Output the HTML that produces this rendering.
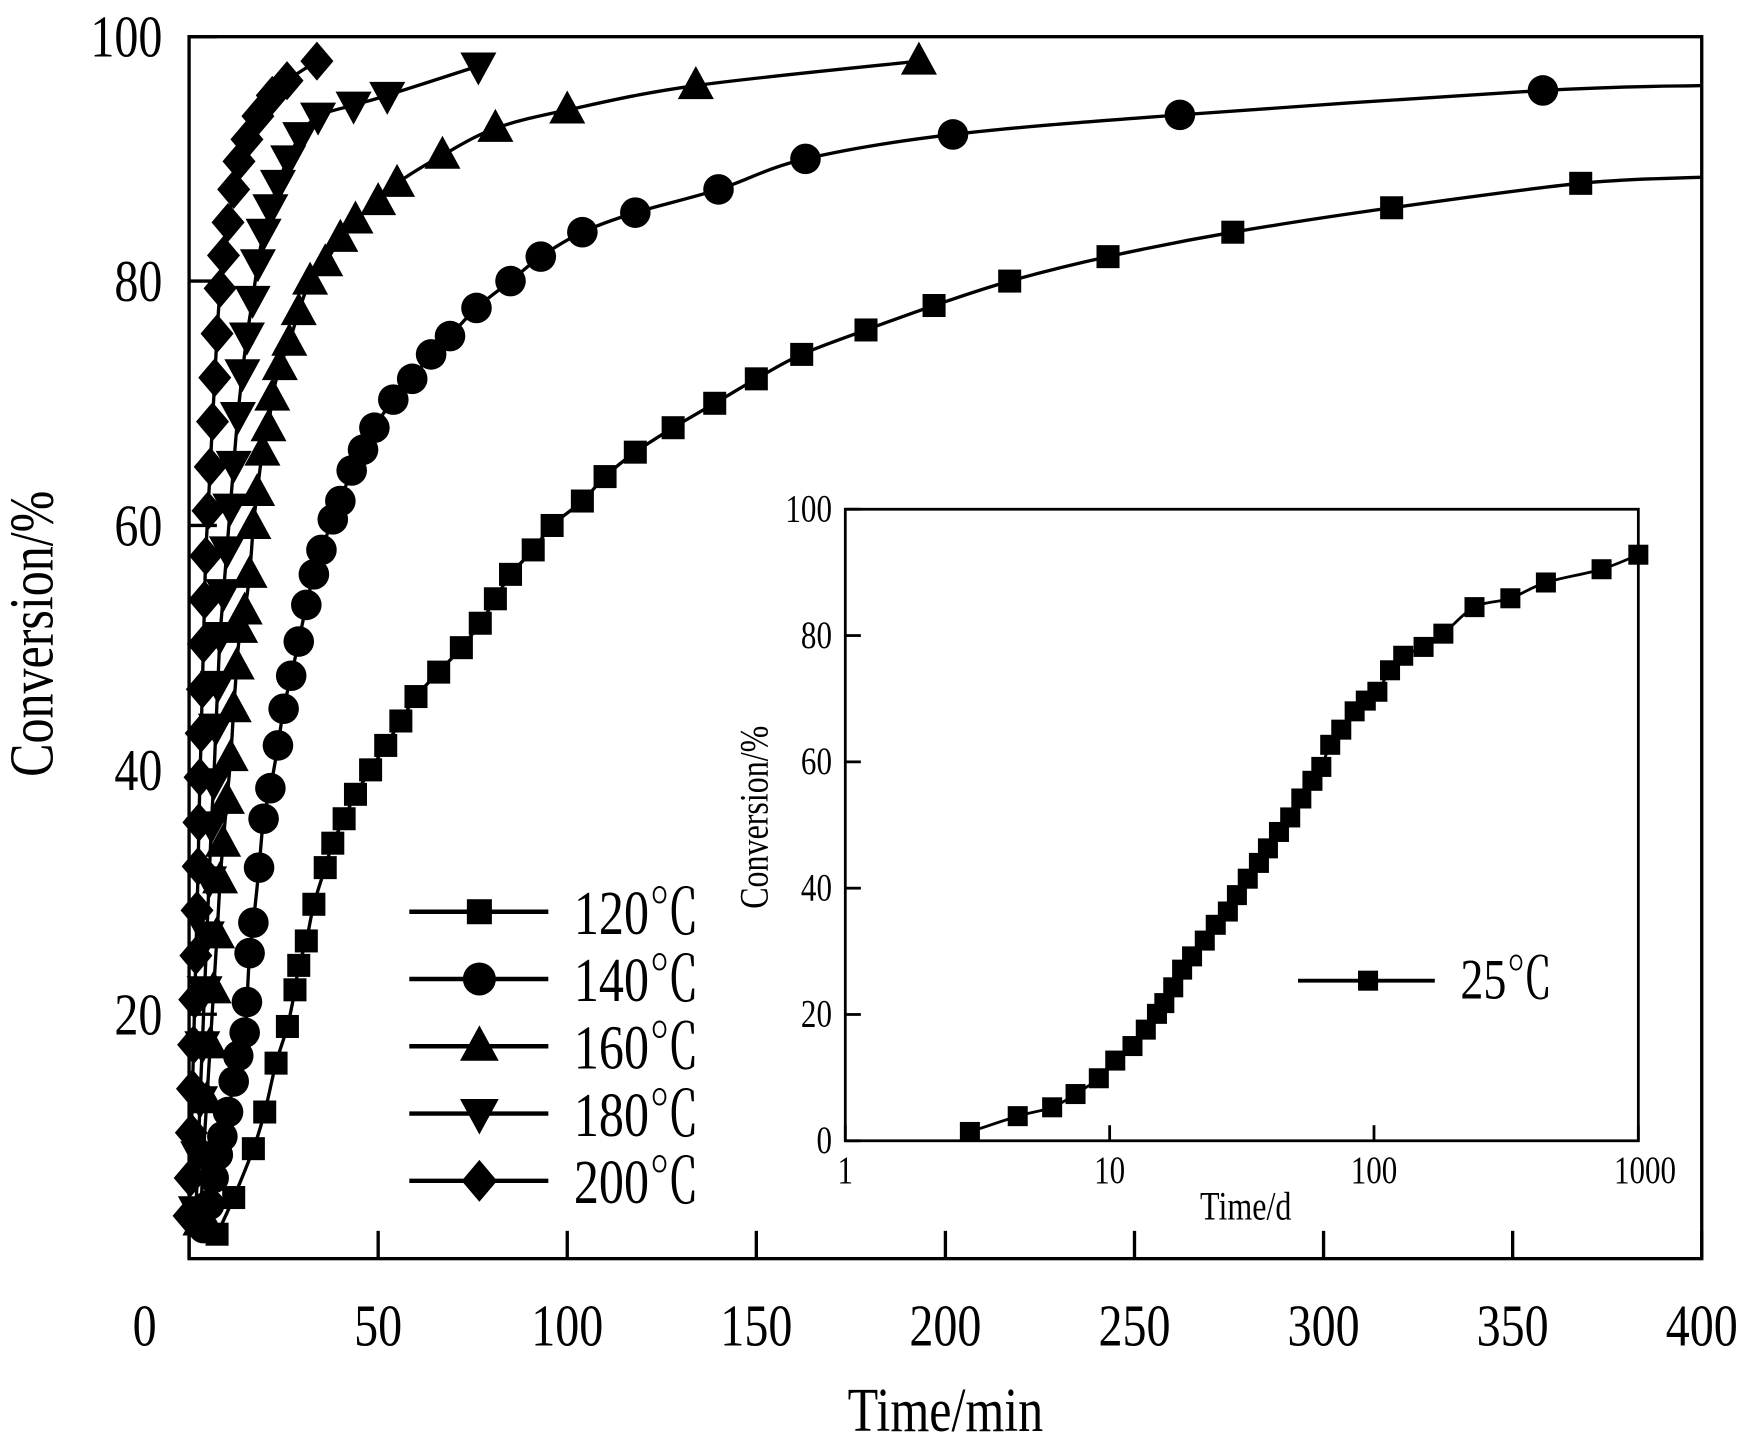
<!DOCTYPE html>
<html><head><meta charset="utf-8"><style>
html,body{margin:0;padding:0;background:#fff;}
svg{display:block;font-family:"Liberation Serif","Noto Serif CJK SC",serif;}
</style></head><body>
<svg id="chart" width="1744" height="1451" viewBox="0 0 1568 1305" preserveAspectRatio="none" xmlns="http://www.w3.org/2000/svg">
<g id="main"></g>
<g id="inset"></g>
</svg>
<script>
// ---- main chart data (minutes, %) ----
const t120=[7.4,11.8,17,20,23,26,28,29,31,33,36,38,41,44,48,52,56,60,66,72,77,81,85,91,96,104,110,118,128,139,150,162,179,197,217,243,276,318,368];
const c120=[2,5,9,12,16,19,22,24,26,29,32,34,36,38,40,42,44,46,48,50,52,54,56,58,60,62,64,66,68,70,72,74,76,78,80,82,84,86,88];
const tail120=[400,88.5];
const t140=[3.8,5.3,6.5,7.6,8.8,10.3,11.8,13,14.7,15.3,16,17,18.5,19.7,21.5,23.5,25,27,29,31,33,35,38,40,43,46,49,54,59,64,69,76,85,93,104,118,140,163,202,262,358];
const c140=[2.5,4.4,6.6,8.5,10,12,14.5,16.6,18.5,21,25,27.5,32,36,38.5,42,45,47.7,50.5,53.5,56,58,60.5,62,64.5,66.2,68,70.3,72,74,75.5,77.8,80,82,84,85.6,87.5,90,92,93.6,95.6];
const tail140=[400,96];
const t160=[3,3.8,4.7,5.6,6.5,7.4,8.2,9,10,11,11.8,12.6,13.5,14.7,16,17,18,19.4,21,22,24,26.5,29,32,36,40,44,50,55,67,81,100,134,193];
const c160=[3,8.5,13,17.5,22,26.5,31,34,37.5,41,45,48.5,51.5,53,56,60,62.7,66,68,70.5,73,75,77.5,80,81.5,83.5,85,86.5,88,90.3,92.5,94,96,98];
const t180=[1.8,2.4,2.9,3.5,4.1,4.7,5.3,5.9,6.5,7.1,7.6,8.2,9.1,10,10.9,11.8,12.9,14.1,15.3,16.8,18.2,19.7,21.5,23.5,26.2,29.4,34.1,43.5,52.4,76.5];
const c180=[4,8.5,13,17.5,22,26.5,31,35.5,39,43.5,47,51,54.5,58,61.5,65,69,72.5,75.5,78.5,81.5,84,86,88,90,91.9,93.5,94.4,95.2,97.6];
const t200=[0,0.3,0.6,0.9,1.2,1.5,1.8,2.1,2.4,2.6,2.9,3.2,3.5,3.8,4.1,4.4,5,5.6,6.2,6.8,7.4,8.2,9.1,10.3,11.8,13.2,15.3,18.2,22,25.9,33.8];
const c200=[3.5,6.6,10.3,13.9,17.5,21.2,24.8,28.5,32.1,35.7,39.4,43,46.6,50.3,53.9,57.5,61.2,64.8,68.5,72.1,75.7,79.4,82.1,84.8,87.5,89.8,91.6,93.5,95.2,96.4,98];
const xTicks=[0,50,100,150,200,250,300,350,400];
const yTicks=[20,40,60,80,100];
const legendLabels=["120℃","140℃","160℃","180℃","200℃"];
// ---- inset data (days, %) ----
const tInset=[2.96,4.49,6.06,7.43,9.1,10.5,12.2,13.7,15.1,16.1,17.4,18.8,20.5,22.9,25.2,28,30.3,33.3,36.7,39.7,43.7,48.2,53.1,58.5,63.2,68.3,75.2,84.5,93.1,103,115,129,154,183,240,328,447,726,1000];
const cInset=[1.4,3.9,5.3,7.4,9.9,12.7,15,17.6,20.1,21.8,24.3,27.1,29.2,31.7,34.2,36.3,38.9,41.5,44,46.3,48.9,51.2,54.2,57,59.2,62.7,65.1,68,69.7,71.1,74.5,76.8,78.2,80.3,84.5,85.9,88.4,90.5,92.8];
const insetXTicks=[1,10,100,1000];
const insetYTicks=[0,20,40,60,80,100];

const NS="http://www.w3.org/2000/svg";
function mk(tag,attrs,parent){const e=document.createElementNS(NS,tag);for(const k in attrs)e.setAttribute(k,attrs[k]);parent.appendChild(e);return e;}
function smooth(pts){if(pts.length<2)return"";let d="M"+pts[0][0]+","+pts[0][1];for(let i=0;i<pts.length-1;i++){const p0=pts[i-1]||pts[i],p1=pts[i],p2=pts[i+1],p3=pts[i+2]||p2;const c1x=p1[0]+(p2[0]-p0[0])/6,c1y=p1[1]+(p2[1]-p0[1])/6,c2x=p2[0]-(p3[0]-p1[0])/6,c2y=p2[1]-(p3[1]-p1[1])/6;d+=` C${c1x},${c1y} ${c2x},${c2y} ${p2[0]},${p2[1]}`;}return d;}
function marker(g,type,x,y,s){let e;
 if(type==="square")e=mk("rect",{x:x-s*0.45,y:y-s*0.45,width:s*0.9,height:s*0.9,fill:"#000"},g);
 else if(type==="circle")e=mk("circle",{cx:x,cy:y,r:s*0.55,fill:"#000"},g);
 else if(type==="up")e=mk("polygon",{points:`${x},${y-s*0.65} ${x-s*0.6},${y+s*0.45} ${x+s*0.6},${y+s*0.45}`,fill:"#000"},g);
 else if(type==="down")e=mk("polygon",{points:`${x},${y+s*0.65} ${x-s*0.6},${y-s*0.45} ${x+s*0.6},${y-s*0.45}`,fill:"#000"},g);
 else e=mk("polygon",{points:`${x},${y-s*0.65} ${x+s*0.55},${y} ${x},${y+s*0.65} ${x-s*0.55},${y}`,fill:"#000"},g);
 return e;}
function txt(parent,x,y,size,str,anchor,extra){const t=mk("text",Object.assign({x:0,y:0,"text-anchor":anchor||"start","font-size":size,transform:`translate(${x},${y}) scale(0.9,1.12)`},extra||{}),parent);t.textContent=str;return t;}

// main axes
const L=170,R=1530,T=33,B=1132;
const X=v=>L+(v/400)*(R-L), Y=v=>B-(v/100)*(B-T);
const main=document.getElementById("main");
const frame=mk("rect",{x:L,y:T,width:R-L,height:B-T,fill:"none",stroke:"#000","stroke-width":3},main);


xTicks.forEach(v=>{
 const tk=mk("line",{x1:X(v),x2:X(v),y1:B,y2:B-25,stroke:"#000","stroke-width":3},main);
 
 
 const t=txt(main,X(v)-(v===0?40:0),B+78,48,v,"middle");
 
 
});
yTicks.forEach(v=>{
 const tk=mk("line",{x1:L,x2:L+25,y1:Y(v),y2:Y(v),stroke:"#000","stroke-width":3},main);
 
 
 const t=txt(main,L-24,Y(v)+18,48,v,"end");
 
 
});
const xt=txt(main,850,1287,50,"Time/min","middle");


const yt=mk("text",{x:0,y:0,"text-anchor":"middle","font-size":50,transform:"translate(47,570) rotate(-90) scale(0.9,1.12)"},main);yt.textContent="Conversion/%";



const series=[[t120,c120,"square",tail120,23],[t140,c140,"circle",tail140,25],[t160,c160,"up",null,27],[t180,c180,"down",null,27],[t200,c200,"diamond",null,27]];
const names=["series-120c","series-140c","series-160c","series-180c","series-200c"];
series.forEach((s,i)=>{
 const g=mk("g",{},main);
 
 
 const pts=s[0].map((t,j)=>[X(t),Y(s[1][j])]);
 if(s[3])pts.push([X(s[3][0]),Y(s[3][1])]);
 const p=mk("path",{d:smooth(pts),fill:"none",stroke:"#000","stroke-width":3},g);
 
 
 s[0].forEach((t,j)=>{const m=marker(g,s[2],X(t),Y(s[1][j]),s[4]);
  
  });
 // legend
 const ly=820+i*60.5;
 const lg=mk("g",{},main);
 
 
 mk("line",{x1:368,x2:493,y1:ly,y2:ly,stroke:"#000","stroke-width":4},lg);
 marker(lg,s[2],431,ly,s[4]+2);
 txt(lg,516,ly+20,50,legendLabels[i],"start");
});

// inset
const iL=760,iR=1473,iT=458,iB=1026;
const IX=v=>iL+Math.log10(v)/3*(iR-iL), IY=v=>iB-(v/100)*(iB-iT);
const ins=document.getElementById("inset");
const ibg=mk("rect",{x:iL,y:iT,width:iR-iL,height:iB-iT,fill:"#fff",stroke:"#000","stroke-width":2.5},ins);


insetXTicks.forEach(v=>{
 const tk=mk("line",{x1:IX(v),x2:IX(v),y1:iB,y2:iB-14,stroke:"#000","stroke-width":2.5},ins);
 
 
 const t=txt(ins,IX(v)+(v===1000?6:0),iB+38,31,v,"middle");
 
 
});
insetYTicks.forEach(v=>{
 const tk=mk("line",{x1:iL,x2:iL+14,y1:IY(v),y2:IY(v),stroke:"#000","stroke-width":2.5},ins);
 
 
 const t=txt(ins,iL-12,IY(v)+11,31,v,"end");
 
 
});
const ixt=txt(ins,1120,1097,32,"Time/d","middle");


const iyt=mk("text",{x:0,y:0,"text-anchor":"middle","font-size":32,transform:"translate(690,735) rotate(-90) scale(0.9,1.12)"},ins);iyt.textContent="Conversion/%";


const ig=mk("g",{},ins);


const ipts=tInset.map((t,j)=>[IX(t),IY(cInset[j])]);
mk("path",{d:smooth(ipts),fill:"none",stroke:"#000","stroke-width":2.5},ig);
tInset.forEach((t,j)=>{const m=marker(ig,"square",IX(t),IY(cInset[j]),20);
 
 });
const il=mk("g",{},ins);


mk("line",{x1:1167,x2:1290,y1:882,y2:882,stroke:"#000","stroke-width":3.5},il);
marker(il,"square",1230,882,20);
txt(il,1313,898,46,"25℃","start");
</script>
</body></html>
